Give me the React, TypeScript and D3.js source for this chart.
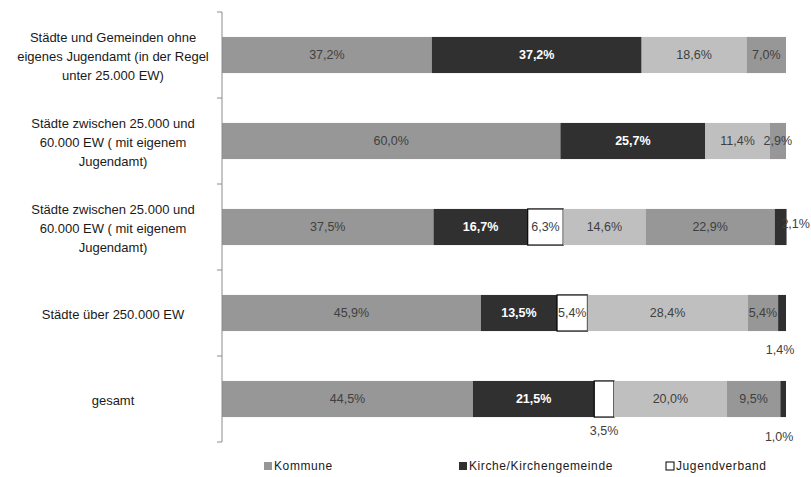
import React from "react";
import * as d3 from "d3";

const categories = [
  "Städte und Gemeinden ohne|eigenes Jugendamt (in der Regel|unter 25.000 EW)",
  "Städte zwischen 25.000 und|60.000 EW ( mit eigenem|Jugendamt)",
  "Städte zwischen 25.000 und|60.000 EW ( mit eigenem|Jugendamt)",
  "Städte über 250.000 EW",
  "gesamt",
];
const seriesNames = ["Kommune", "Kirche/Kirchengemeinde", "Jugendverband", "Serie 4", "Serie 5", "Serie 6"];
const kommune = [37.2, 60.0, 37.5, 45.9, 44.5];
const kirche = [37.2, 25.7, 16.7, 13.5, 21.5];
const jugendverband = [0, 0, 6.3, 5.4, 3.5];
const serie4 = [18.6, 11.4, 14.6, 28.4, 20.0];
const serie5 = [7.0, 2.9, 22.9, 5.4, 9.5];
const serie6 = [0, 0, 2.1, 1.4, 1.0];
const legendNames = ["Kommune", "Kirche/Kirchengemeinde", "Jugendverband"];

const seriesData = [kommune, kirche, jugendverband, serie4, serie5, serie6];
const fills = ["#979797", "#303030", "#ffffff", "#bfbfbf", "#979797", "#303030"];
const strokes = ["none", "none", "#000", "none", "none", "none"];
const textColors = ["#404040", "#ffffff", "#404040", "#404040", "#404040", "#404040"];
const bold = [false, true, false, false, false, false];

const fmt = (v: number) => v.toFixed(1).replace(".", ",") + "%";

export default function App() {
  const W = 811, H = 477;
  const x0 = 222, x1 = 786;
  const x = d3.scaleLinear().domain([0, 100]).range([x0, x1]);
  const y = d3.scaleBand<number>().domain(categories.map((_, i) => i)).range([12, 442]).paddingInner(0.58).paddingOuter(0.29);
  const step = y.step();
  const bh = y.bandwidth();
  const font = "'Liberation Sans', Arial, sans-serif";

  const segs: any[] = [];
  categories.forEach((_, ci) => {
    let acc = 0;
    seriesData.forEach((arr, si) => {
      const v = arr[ci];
      const start = acc;
      acc += v;
      if (v <= 0) return;
      segs.push({ ci, si, v, start, end: acc });
    });
  });

  const labelPos = (s: any) => {
    const cx = x((s.start + s.end) / 2);
    const cy = (y(s.ci) as number) + bh / 2;
    if (s.ci === 2 && s.si === 5) return { lx: cx + 15, ly: cy - 3 };
    if (s.ci === 3 && s.si === 5) return { lx: cx - 2, ly: cy + bh / 2 + 19 };
    if (s.ci === 4 && s.si === 2) return { lx: cx, ly: cy + bh / 2 + 14 };
    if (s.ci === 4 && s.si === 5) return { lx: cx - 4, ly: cy + bh / 2 + 20 };
    return { lx: cx, ly: cy };
  };

  const tickYs = d3.range(categories.length + 1).map((i) => 12 + i * step);
  const legendX = [264, 459, 666];

  return (
    <svg width={W} height={H} style={{ position: "absolute", left: 0, top: 0, background: "#fff" }}>
      <rect width={W} height={H} fill="#fff" />
      {segs.map((s, i) => (
        <rect key={"r" + i} x={x(s.start)} y={y(s.ci)} width={x(s.end) - x(s.start)} height={bh}
          fill={fills[s.si]} stroke={strokes[s.si]} strokeWidth={strokes[s.si] === "none" ? 0 : 1.2} />
      ))}
      <line x1={x0} x2={x0} y1={12} y2={442} stroke="#8c8c8c" strokeWidth={1} />
      {tickYs.map((t, i) => (
        <line key={"t" + i} x1={x0 - 5} x2={x0} y1={t} y2={t} stroke="#8c8c8c" strokeWidth={1} />
      ))}
      {categories.map((c, i) => {
        const lines = c.split("|");
        const cy = (y(i) as number) + bh / 2 + 1;
        const lh = 19;
        return (
          <text key={"c" + i} x={113} textAnchor="middle" fontFamily={font} fontSize={13} fill="#1a1a1a">
            {lines.map((l, li) => (
              <tspan key={li} x={113} y={cy + (li - (lines.length - 1) / 2) * lh} dy="0.35em">{l}</tspan>
            ))}
          </text>
        );
      })}
      {segs.map((s, i) => {
        const p = labelPos(s);
        const below = p.ly > (y(s.ci) as number) + bh;
        return (
          <text key={"l" + i} x={p.lx} y={p.ly} dy="0.35em" textAnchor="middle" fontFamily={font} fontSize={12.5}
            fontWeight={bold[s.si] ? "bold" : "normal"} fill={below ? "#404040" : textColors[s.si]}>
            {fmt(s.v)}
          </text>
        );
      })}
      {legendNames.map((n, i) => (
        <g key={"lg" + i}>
          <rect x={legendX[i]} y={462} width={8} height={8} fill={fills[i]} stroke={strokes[i] === "none" ? "none" : "#000"} strokeWidth={1} />
          <text x={legendX[i] + 10} y={466} dy="0.35em" fontFamily={font} fontSize={12} fill="#1a1a1a" letterSpacing={0.6}>{n}</text>
        </g>
      ))}
    </svg>
  );
}
